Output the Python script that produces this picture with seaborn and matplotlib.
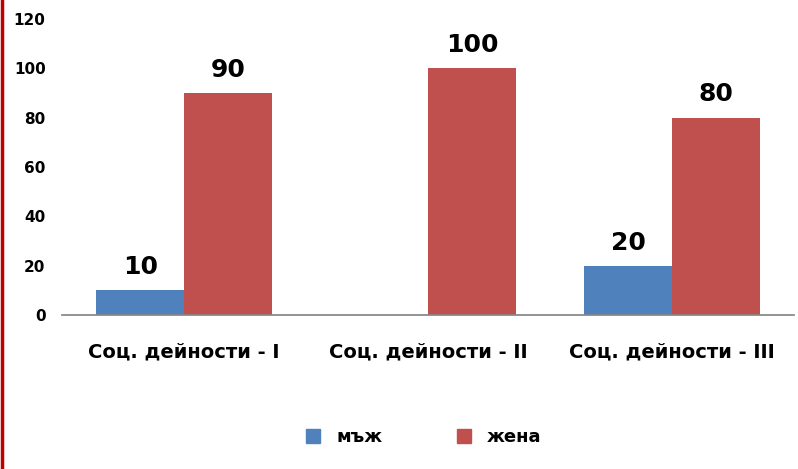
import numpy as np
import pandas as pd
import matplotlib
matplotlib.use("Agg")
import matplotlib.pyplot as plt
import seaborn as sns
from matplotlib.lines import Line2D

# chart data
categories = ["Соц. дейности - I", "Соц. дейности - II", "Соц. дейности - III"]
series_names = ["мъж", "жена"]
men = [10, 0, 20]
women = [90, 100, 80]
colors = ["#4F81BD", "#C0504D"]

df = pd.DataFrame({
    "category": categories * 2,
    "series": [series_names[0]] * 3 + [series_names[1]] * 3,
    "value": men + women,
})

sns.set_theme(style="white")
plt.rcParams['font.family'] = ['DejaVu Sans']
plt.rcParams['text.color'] = 'black'

fig = plt.figure(figsize=(7.98, 4.69), dpi=100)
ax = fig.add_axes([0.078, 0.328, 0.917, 0.632])

sns.barplot(data=df, x="category", y="value", hue="series", palette=colors,
            width=0.72, saturation=1, ax=ax, legend=False, linewidth=0)

for cont in ax.containers:
    labels = [f"{v:g}" if v > 0 else "" for v in cont.datavalues]
    ax.bar_label(cont, labels=labels, padding=8, fontsize=18, fontweight="bold",
                 color="black")

ax.set_ylim(0, 120)
ax.set_yticks(range(0, 121, 20))
ax.set_xlabel("")
ax.set_ylabel("")
for s in ["top", "right", "left"]:
    ax.spines[s].set_visible(False)
ax.spines["bottom"].set_color("#868686")
ax.tick_params(axis="y", length=0, labelsize=11, pad=12, labelcolor="black")
ax.tick_params(axis="x", length=0, labelsize=14, pad=20, labelcolor="black")
for t in ax.get_yticklabels() + ax.get_xticklabels():
    t.set_fontweight("bold")

handles = [Line2D([0], [0], marker="s", linestyle="", markersize=10,
                  markerfacecolor=c, markeredgecolor=c) for c in colors]
fig.legend(handles, series_names, loc="center", bbox_to_anchor=(0.524, 0.068),
           ncol=2, frameon=False, handletextpad=0.3, columnspacing=3.5,
           prop={"weight": "bold", "size": 13})

# red border line on the left edge
fig.add_artist(Line2D([0.002, 0.002], [0, 1], color="#C00000", lw=2.5,
                      transform=fig.transFigure))

fig.savefig("out.png", dpi=100)
